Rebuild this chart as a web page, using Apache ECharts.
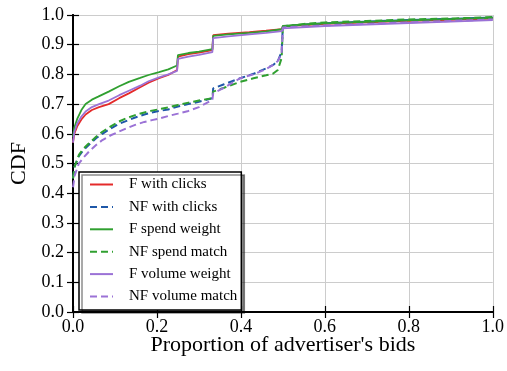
<!DOCTYPE html>
<html>
<head>
<meta charset="utf-8">
<script src="https://cdn.jsdelivr.net/npm/echarts@6/dist/echarts.min.js"></script>
<style>html,body{margin:0;padding:0;background:#fff;}#c{width:507px;height:371px;}</style>
</head>
<body>
<div id="c"></div>
<script>
const seriesNames = ['F with clicks', 'NF with clicks', 'F spend weight', 'NF spend match', 'F volume weight', 'NF volume match'];
const xTicks = [0, 0.2, 0.4, 0.6, 0.8, 1.0];
const yTicks = [0, 0.1, 0.2, 0.3, 0.4, 0.5, 0.6, 0.7, 0.8, 0.9, 1.0];

const fWithClicks = [[0,0.57],[0.003,0.6],[0.01,0.625],[0.02,0.648],[0.03,0.665],[0.045,0.68],[0.062,0.69],[0.085,0.70],[0.11,0.72],[0.133,0.736],[0.16,0.757],[0.18,0.772],[0.205,0.787],[0.227,0.798],[0.248,0.815],[0.25,0.86],[0.275,0.868],[0.30,0.873],[0.332,0.882],[0.334,0.932],[0.37,0.937],[0.42,0.942],[0.46,0.947],[0.498,0.952],[0.5,0.962],[0.6,0.97],[0.7,0.975],[0.8,0.98],[0.9,0.984],[1.0,0.988]];
const nfWithClicks = [[0,0.45],[0.004,0.49],[0.014,0.525],[0.025,0.545],[0.038,0.563],[0.055,0.585],[0.07,0.60],[0.09,0.618],[0.109,0.633],[0.13,0.645],[0.148,0.655],[0.17,0.665],[0.188,0.672],[0.21,0.678],[0.227,0.682],[0.25,0.692],[0.275,0.70],[0.30,0.708],[0.332,0.72],[0.334,0.753],[0.36,0.767],[0.398,0.787],[0.43,0.802],[0.46,0.82],[0.477,0.832],[0.488,0.845],[0.497,0.876],[0.5,0.962],[0.55,0.968],[0.6,0.972],[0.7,0.978],[0.8,0.983],[0.9,0.987],[1.0,0.992]];
const fSpendWeight = [[0,0.59],[0.003,0.62],[0.01,0.65],[0.02,0.68],[0.03,0.70],[0.045,0.715],[0.06,0.725],[0.085,0.742],[0.11,0.76],[0.133,0.775],[0.16,0.788],[0.18,0.798],[0.205,0.808],[0.227,0.817],[0.248,0.83],[0.25,0.865],[0.275,0.872],[0.30,0.877],[0.332,0.885],[0.334,0.93],[0.37,0.935],[0.42,0.94],[0.46,0.945],[0.498,0.952],[0.5,0.963],[0.55,0.968],[0.6,0.972],[0.7,0.977],[0.8,0.982],[0.9,0.986],[1.0,0.99]];
const nfSpendMatch = [[0,0.45],[0.004,0.49],[0.014,0.529],[0.025,0.55],[0.038,0.568],[0.055,0.59],[0.07,0.607],[0.09,0.625],[0.109,0.641],[0.13,0.654],[0.148,0.663],[0.17,0.672],[0.188,0.678],[0.21,0.684],[0.227,0.689],[0.25,0.697],[0.275,0.705],[0.30,0.712],[0.332,0.72],[0.334,0.742],[0.36,0.755],[0.398,0.775],[0.43,0.787],[0.46,0.797],[0.477,0.803],[0.488,0.815],[0.497,0.855],[0.5,0.96],[0.55,0.97],[0.6,0.975],[0.7,0.98],[0.8,0.985],[0.9,0.988],[1.0,0.993]];
const fVolumeWeight = [[0,0.57],[0.003,0.605],[0.01,0.635],[0.02,0.658],[0.03,0.675],[0.045,0.69],[0.062,0.70],[0.085,0.712],[0.11,0.73],[0.133,0.745],[0.16,0.762],[0.18,0.777],[0.205,0.79],[0.227,0.80],[0.248,0.812],[0.25,0.852],[0.275,0.86],[0.30,0.866],[0.332,0.875],[0.334,0.922],[0.37,0.928],[0.42,0.935],[0.46,0.94],[0.498,0.946],[0.5,0.955],[0.6,0.963],[0.7,0.968],[0.8,0.973],[0.9,0.978],[1.0,0.983]];
const nfVolumeMatch = [[0,0.42],[0.004,0.46],[0.014,0.50],[0.025,0.52],[0.038,0.54],[0.055,0.562],[0.07,0.579],[0.09,0.595],[0.109,0.607],[0.13,0.62],[0.148,0.63],[0.17,0.64],[0.188,0.646],[0.21,0.653],[0.227,0.66],[0.25,0.668],[0.275,0.677],[0.30,0.69],[0.332,0.714],[0.334,0.736],[0.36,0.755],[0.398,0.787],[0.43,0.80],[0.46,0.818],[0.477,0.832],[0.488,0.845],[0.497,0.87],[0.5,0.958],[0.6,0.965],[0.7,0.97],[0.8,0.975],[0.9,0.98],[1.0,0.985]];

const seriesData = [fWithClicks, nfWithClicks, fSpendWeight, nfSpendMatch, fVolumeWeight, nfVolumeMatch];
const colors = ['#e42a2a', '#1f58a8', '#30a030', '#30a030', '#9b72d6', '#9b72d6'];
const dashed = [false, true, false, true, false, true];

const font = '"Liberation Serif", "Times New Roman", serif';
const chart = echarts.init(document.getElementById('c'), null, {renderer: 'canvas'});

const baseAxis = {
  min: 0, max: 1,
  axisLine: {show: true, lineStyle: {color: '#000', width: 2}},
  axisTick: {show: true, inside: true, length: 6, lineStyle: {color: '#000', width: 1.2}},
  splitLine: {show: false}
};

chart.setOption({
  animation: false,
  backgroundColor: '#fff',
  grid: {left: 72, right: 13, top: 15, bottom: 59, containLabel: false},
  xAxis: [
    Object.assign({}, baseAxis, {
      type: 'value', position: 'bottom', interval: 0.2,
      name: "Proportion of advertiser's bids", nameLocation: 'middle', nameGap: 22, nameMoveOverlap: false,
      nameTextStyle: {fontFamily: font, fontSize: 22, color: '#000'},
      axisLabel: {fontFamily: font, fontSize: 18, color: '#000', margin: 6, formatter: v => xTicks.includes(+v.toFixed(1)) ? v.toFixed(1) : ''},
      splitLine: {show: true, lineStyle: {color: '#cccccc', width: 1}}
    }),
    Object.assign({}, baseAxis, {type: 'value', position: 'top', interval: 0.2, axisLabel: {show: false}})
  ],
  yAxis: [
    Object.assign({}, baseAxis, {
      type: 'value', position: 'left', interval: 0.1,
      name: 'CDF', nameLocation: 'middle', nameGap: 43, nameMoveOverlap: false,
      nameTextStyle: {fontFamily: font, fontSize: 22, color: '#000'},
      axisLabel: {fontFamily: font, fontSize: 18, color: '#000', margin: 9, formatter: v => yTicks.includes(+v.toFixed(1)) ? v.toFixed(1) : ''},
      splitLine: {show: true, lineStyle: {color: '#cccccc', width: 1}}
    }),
    Object.assign({}, baseAxis, {type: 'value', position: 'right', interval: 0.1, axisLabel: {show: false}})
  ],
  legend: {
    orient: 'vertical', left: 79, top: 172,
    data: seriesNames,
    itemWidth: 23, itemHeight: 14, itemGap: 7.4,
    padding: [5, 4, 6, 10],
    borderColor: '#000', borderWidth: 1.5, borderRadius: 0,
    backgroundColor: '#fff',
    shadowColor: 'rgba(0,0,0,0.45)', shadowBlur: 0, shadowOffsetX: 3, shadowOffsetY: 3,
    itemStyle: {opacity: 0},
    textStyle: {fontFamily: font, fontSize: 15, color: '#000', padding: [0, 0, 0, 11]}
  },
  series: seriesNames.map((name, i) => ({
    name: name, type: 'line', xAxisIndex: 0, yAxisIndex: 0,
    data: seriesData[i], showSymbol: false, symbol: 'none',
    lineStyle: {color: colors[i], width: dashed[i] ? 2 : 1.8, type: dashed[i] ? [7, 4] : 'solid'},
    itemStyle: {color: colors[i]},
    z: 2 + i
  }))
});
</script>
</body>
</html>
